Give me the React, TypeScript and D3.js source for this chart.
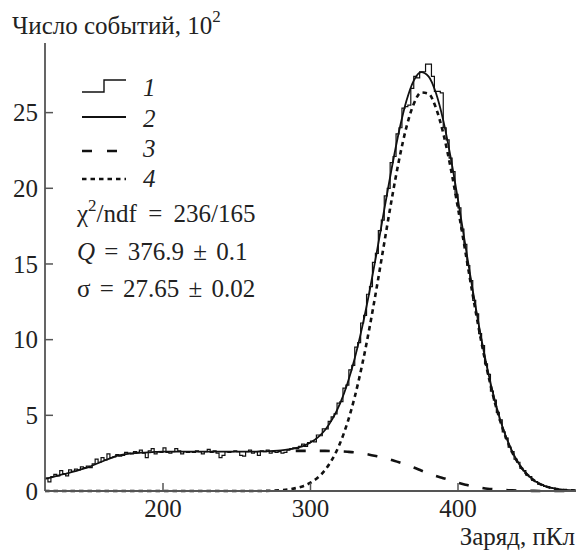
import React from "react";
import * as d3 from "d3";

// ---------- data ----------
const xDomain = [120, 480];
const yDomain = [0, 29.6];
const xTicks = [200, 300, 400];
const yTicks = [0, 5, 10, 15, 20, 25];

const binStart = 120;
const binWidth = 2;
// histogram counts (10^2), bins of 2 pC from 120 to 480
const histCounts = [
  0.85, 0.6, 0.95, 1.1, 1.0, 1.35, 1.15, 1.0, 1.4, 1.3,
  1.45, 1.4, 1.6, 1.55, 1.65, 1.55, 1.8, 2.1, 1.9, 2.2,
  2.05, 2.45, 2.2, 2.25, 2.4, 2.3, 2.35, 2.55, 2.5, 2.45,
  2.6, 2.55, 2.7, 2.5, 2.2, 2.65, 2.8, 2.45, 2.6, 2.55,
  2.85, 2.55, 2.5, 2.6, 2.8, 2.65, 2.45, 2.6, 2.55, 2.6,
  2.55, 2.65, 2.6, 2.45, 2.6, 2.75, 2.55, 2.65, 2.5, 2.2,
  2.35, 2.6, 2.55, 2.6, 2.65, 2.6, 2.35, 2.3, 2.6, 2.7,
  2.5, 2.6, 2.35, 2.65, 2.6, 2.7, 2.5, 2.6, 2.55, 2.6,
  2.5, 2.55, 2.7, 2.8, 2.85,
  2.8, 2.95, 3.1, 2.95, 3.2, 3.3, 3.25, 3.7, 3.65, 4.1,
  4.1, 4.6, 4.9, 5.1, 5.8, 5.9, 6.8, 7.0, 8.0, 8.3,
  9.5, 9.8, 11.1, 11.6, 13.0, 13.5, 15.1, 15.7, 17.2, 17.9,
  19.5, 20.0, 21.7, 22.1, 23.6, 24.0, 25.3, 25.4, 25.5, 26.6,
  27.4, 27.3, 27.7, 27.7, 28.2, 28.2, 27.4, 26.4, 26.4, 26.3,
  24.0, 23.2, 22.0, 21.1, 19.6, 18.7, 17.3, 16.3, 14.9, 13.9,
  12.6, 11.7, 10.4, 9.6, 8.4, 7.7, 6.6, 6.0, 5.2, 4.7,
  3.9, 3.5, 2.9, 2.6, 2.1, 1.9, 1.5, 1.35, 1.05, 0.95,
  0.7, 0.62, 0.45, 0.42, 0.3, 0.28, 0.2, 0.18, 0.12, 0.11,
  0.08, 0.07, 0.05, 0.04, 0.03,
];

// fit curves sampled every 5 pC
const fitX = d3.range(120, 481, 5);
const fitTotal = [
  0.80, 0.92, 1.05, 1.17, 1.30, 1.45, 1.60, 1.80, 2.00, 2.19,
  2.35, 2.44, 2.50, 2.53, 2.55, 2.58, 2.60, 2.60, 2.60, 2.60,
  2.60, 2.60, 2.60, 2.60, 2.60, 2.60, 2.60, 2.60, 2.60, 2.61,
  2.62, 2.65, 2.69, 2.75, 2.84, 2.97, 3.20, 3.54, 4.05, 4.78,
  5.77, 7.09, 8.77, 10.81, 13.18, 15.81, 18.59, 21.29, 23.75, 25.76,
  27.12, 27.68, 27.40, 26.31, 24.49, 22.06, 19.23, 16.23, 13.25, 10.49,
  8.03, 5.96, 4.28, 2.98, 2.00, 1.30, 0.82, 0.49, 0.29, 0.17,
  0.09, 0.05, 0.02,
];
const fitGauss = [
  0, 0, 0, 0, 0, 0, 0, 0, 0, 0,
  0, 0, 0, 0, 0, 0, 0, 0, 0, 0,
  0, 0, 0, 0, 0, 0, 0, 0, 0, 0,
  0.01, 0.03, 0.06, 0.10, 0.19, 0.32, 0.55, 0.89, 1.40, 2.14,
  3.15, 4.50, 6.22, 8.33, 10.78, 13.51, 16.39, 19.24, 21.85, 24.03,
  25.57, 26.33, 26.25, 25.32, 23.64, 21.36, 18.68, 15.81, 12.95, 10.27,
  7.88, 5.85, 4.21, 2.93, 1.97, 1.28, 0.81, 0.49, 0.29, 0.17,
  0.09, 0.05, 0.02,
];
const bgX = d3.range(290, 481, 5);
const fitBackground = [
  2.65, 2.65, 2.65, 2.65, 2.65, 2.64, 2.62, 2.59, 2.55, 2.48,
  2.40, 2.30, 2.20, 2.05, 1.90, 1.73, 1.55, 1.35, 1.15, 0.99,
  0.85, 0.70, 0.55, 0.42, 0.30, 0.22, 0.15, 0.11, 0.07, 0.05,
  0.03, 0.02, 0.01, 0, 0, 0, 0, 0, 0,
];

const legendLabels = ["1", "2", "3", "4"];

// ---------- layout ----------
const W = 578;
const H = 551;
const axisColor = "#555";
const serif = "Liberation Serif";
const css = `svg text, svg tspan { font-family: "Liberation Serif", Tinos, FreeSerif, serif !important; }`;

export default function App() {
  const x = d3.scaleLinear().domain(xDomain).range([45, 576]);
  const y = d3.scaleLinear().domain(yDomain).range([491, 43]);

  const histPts: [number, number][] = histCounts.map((v, i) => [binStart + i * binWidth, v]);
  histPts.push([binStart + histCounts.length * binWidth, histCounts[histCounts.length - 1]]);
  const histPath = d3
    .line<[number, number]>()
    .x((d) => x(d[0]))
    .y((d) => y(d[1]))
    .curve(d3.curveStepAfter)(histPts) as string;

  const curve = d3
    .line<[number, number]>()
    .x((d) => x(d[0]))
    .y((d) => y(d[1]))
    .curve(d3.curveMonotoneX);

  const totalPath = curve(fitX.map((xv, i) => [xv, fitTotal[i]])) as string;
  const gaussPath = curve(fitX.map((xv, i) => [xv, fitGauss[i]])) as string;
  const bgPath = curve(bgX.map((xv, i) => [xv, fitBackground[i]])) as string;

  const x0 = x(xDomain[0]);
  const y0 = y(0);

  const legY = [86, 117, 151, 179];
  const legX1 = 82;
  const legX2 = 126;

  return (
    <svg width={W} height={H} style={{ position: "absolute", left: 0, top: 0 }}>
      <style>{css}</style>
      {/* curves */}
      <path d={gaussPath} fill="none" stroke="#111" strokeWidth={2.6} strokeDasharray="4.5,4" />
      <path d={bgPath} fill="none" stroke="#111" strokeWidth={2.6} strokeDasharray="10,14" />
      <path d={histPath} fill="none" stroke="#111" strokeWidth={1.2} />
      <path d={totalPath} fill="none" stroke="#111" strokeWidth={1.8} />

      {/* axes */}
      <line x1={x0} x2={x0} y1={y(yDomain[1])} y2={y0} stroke={axisColor} strokeWidth={1.8} />
      <line x1={x0} x2={x(xDomain[1])} y1={y0} y2={y0} stroke={axisColor} strokeWidth={1.8} />
      {yTicks.map((t) => (
        <line key={"yl" + t} x1={x0} x2={x0 + 8} y1={y(t)} y2={y(t)} stroke={axisColor} strokeWidth={1.5} />
      ))}
      {xTicks.map((t) => (
        <line key={"xl" + t} x1={x(t)} x2={x(t)} y1={y0} y2={y0 - 8} stroke={axisColor} strokeWidth={1.5} />
      ))}
      {yTicks.map((t) => (
        <text key={"y" + t} x={38} y={y(t) + 8.6} textAnchor="end" fill="#222" style={{ fontFamily: serif, fontSize: 25 }}>
          {String(t)}
        </text>
      ))}
      {xTicks.map((t) => (
        <text key={"x" + t} x={x(t)} y={517} textAnchor="middle" fill="#222" style={{ fontFamily: serif, fontSize: 25 }}>
          {String(t)}
        </text>
      ))}

      {/* axis titles */}
      <text x={12} y={34} fill="#222" style={{ fontFamily: serif, fontSize: 25 }}>
        Число событий, 10<tspan dy={-12} style={{ fontSize: 17 }}>2</tspan>
      </text>
      <text x={575} y={545} textAnchor="end" fill="#222" style={{ fontFamily: serif, fontSize: 25 }}>
        Заряд, пКл
      </text>

      {/* legend */}
      <path
        d={`M${legX1},${legY[0] + 6}H${104}V${legY[0] - 6}H${legX2}`}
        fill="none"
        stroke="#111"
        strokeWidth={1.4}
      />
      <line x1={legX1} x2={legX2} y1={legY[1]} y2={legY[1]} stroke="#111" strokeWidth={1.8} />
      <line x1={legX1} x2={legX2} y1={legY[2]} y2={legY[2]} stroke="#111" strokeWidth={2.6} strokeDasharray="10,15" />
      <line x1={legX1} x2={legX2} y1={legY[3]} y2={legY[3]} stroke="#111" strokeWidth={2.6} strokeDasharray="4.5,4" />
      {legendLabels.map((l, i) => (
        <text key={l} x={143} y={[96, 127, 157, 187][i]} fill="#222" style={{ fontFamily: serif, fontSize: 25, fontStyle: "italic" }}>
          {l}
        </text>
      ))}

      {/* fit stats */}
      <text x={77} y={222} fill="#222" style={{ fontFamily: serif, fontSize: 25, wordSpacing: 5 }}>
        χ<tspan dy={-11} style={{ fontSize: 17 }}>2</tspan><tspan dy={11}>/ndf = 236/165</tspan>
      </text>
      <text x={77} y={260} fill="#222" style={{ fontFamily: serif, fontSize: 25, wordSpacing: 3 }}>
        <tspan style={{ fontStyle: "italic" }}>Q</tspan> = 376.9 ± 0.1
      </text>
      <text x={77} y={297} fill="#222" style={{ fontFamily: serif, fontSize: 25, wordSpacing: 3 }}>
        σ = 27.65 ± 0.02
      </text>
    </svg>
  );
}
